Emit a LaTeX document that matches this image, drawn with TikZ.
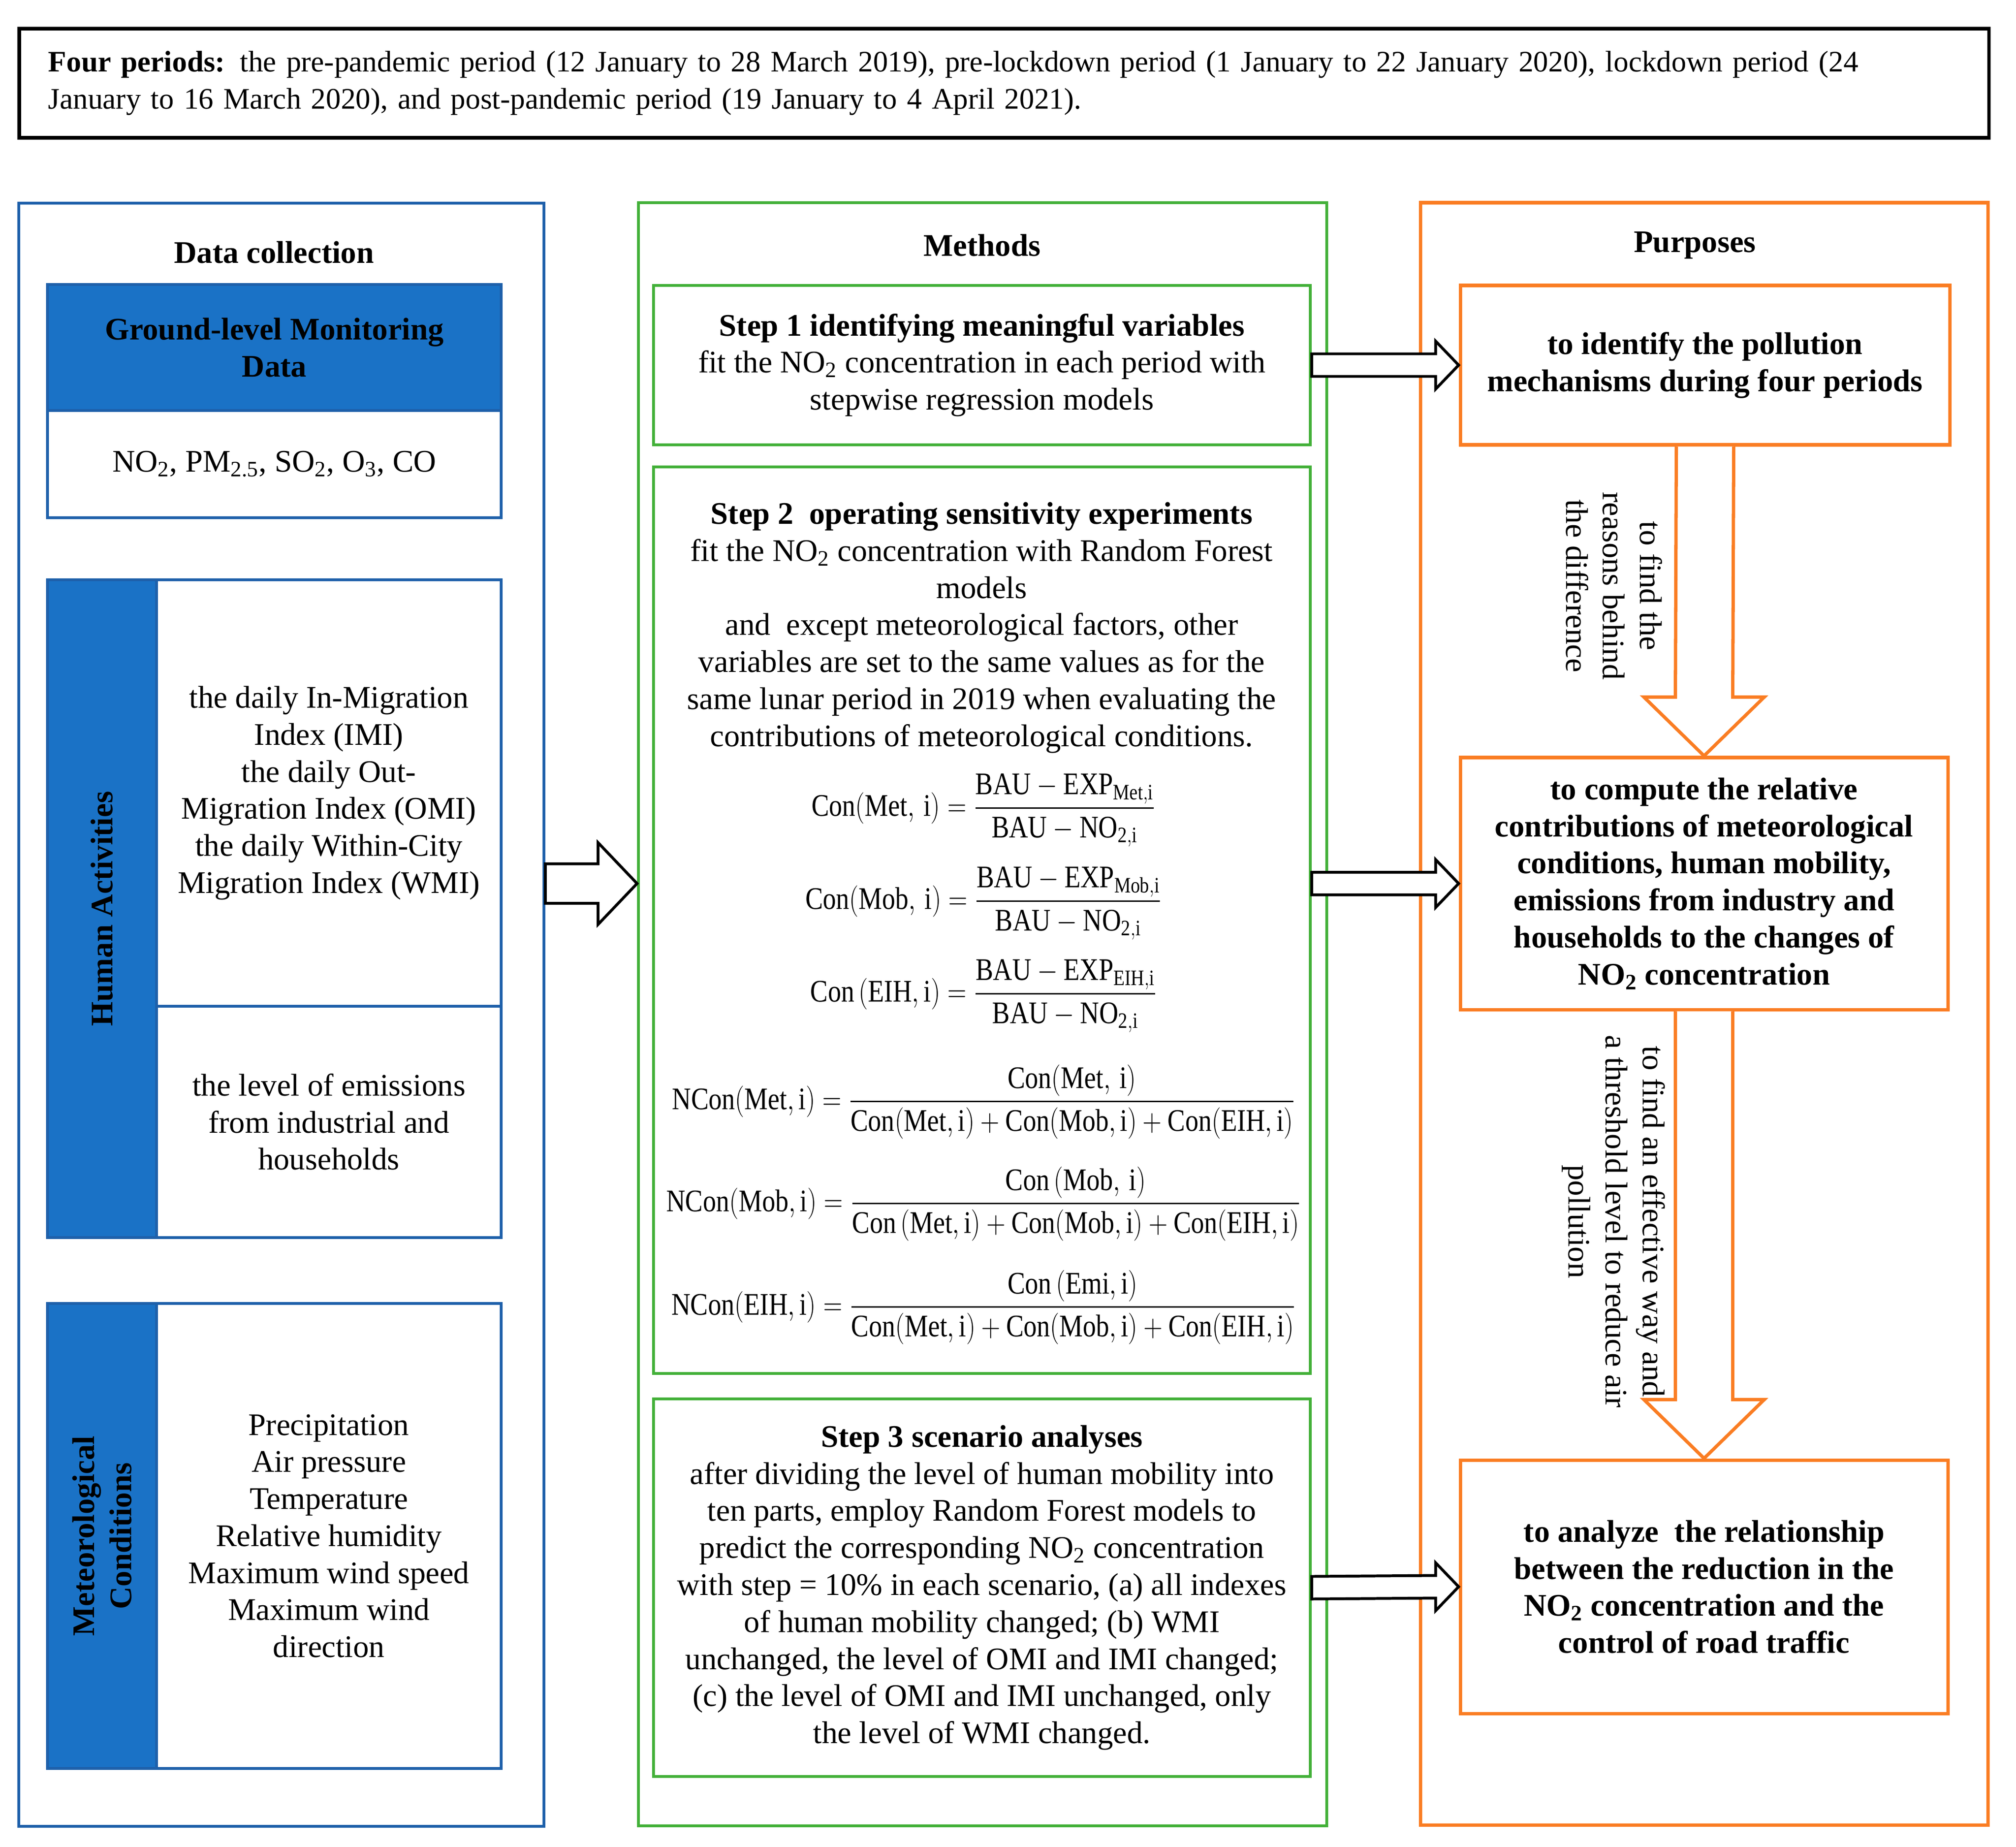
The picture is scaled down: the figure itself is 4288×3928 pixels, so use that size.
\RequirePackage{fix-cm}
\documentclass[tikz,border=0pt]{standalone}
\usepackage{amsmath}
\usepackage{graphicx}
\usepackage{fontspec}
\setmainfont{Liberation Serif}
\usetikzlibrary{calc}
\definecolor{bfill}{RGB}{26,114,198}
\definecolor{bline}{RGB}{30,96,170}
\definecolor{gline}{RGB}{66,176,56}
\definecolor{oline}{RGB}{250,125,35}
\newcommand\rbox[7]{\node[#2, minimum width={(#5-#3)*0.01cm}, minimum height={(#6-#4)*0.01cm}] (#1) at ({(#3+#5)/2},{(#4+#6)/2}) {#7};}
\newcommand\harrow[5]{\draw[blackarrow] ($#1+(0,-#3)$) -- ($#2+(-#5,-#3)$) -- ($#2+(-#5,-#4)$) -- #2 -- ($#2+(-#5,#4)$) -- ($#2+(-#5,#3)$) -- ($#1+(0,#3)$) -- cycle;}
\newcommand\varrow[2]{\draw[orangearrow] ($#1+(-61,0)$) -- ($#2+(-61,-125)$) -- ($#2+(-128,-125)$) -- #2 -- ($#2+(128,-125)$) -- ($#2+(61,-125)$) -- ($#1+(61,0)$);}
\newcommand\sub[1]{\textsubscript{#1}}
\newcommand\fml[1]{\scalebox{0.84}[1]{$\displaystyle #1$}}
\begin{document}
\begin{tikzpicture}[x=0.01cm,y=-0.01cm,
  every node/.style={font=\fontsize{19}{22.4}\selectfont, inner sep=0pt, align=center},
  bold/.style={font=\fontsize{19}{22.4}\selectfont\bfseries},
  topbox/.style={draw=black, line width=2pt},
  bluebox/.style={draw=bline, line width=1.6pt},
  bluebar/.style={draw=bline, fill=bfill, line width=1.6pt},
  greenbox/.style={draw=gline, line width=1.7pt},
  orangebox/.style={draw=oline, line width=2pt},
  blackarrow/.style={draw=black, fill=white, line width=1.7pt, line join=miter},
  orangearrow/.style={draw=oline, fill=white, line width=2pt, line join=miter}]
\useasboundingbox (0,0) rectangle (4288,3928);
% top box
\rbox{top}{topbox, align=left, text width=40.63cm, font=\fontsize{18}{22.4}\selectfont}{41}{61}{4230}{293}{\textbf{Four periods:} the pre-pandemic period (12 January to 28 March 2019), pre-lockdown period (1 January to 22 January 2020), lockdown period (24\\January to 16 March 2020), and post-pandemic period (19 January to 4 April 2021).}
% columns
\rbox{blueout}{bluebox}{40}{432}{1157}{3884}{}
\rbox{greenout}{greenbox}{1358}{431}{2822}{3883}{}
\rbox{orangeout}{orangebox}{3021}{431}{4228}{3881}{}
\node[bold] (tdata) at (583,537) {Data collection};
\node[bold] (tmeth) at (2089,522) {Methods};
\node[bold] (tpurp) at (3605,522) {Purposes};
% left column
\rbox{ghead}{bluebar, bold}{101}{605}{1066}{873}{Ground-level Monitoring\\Data}
\rbox{gbody}{bluebox}{101}{873}{1066}{1101}{NO\sub{2}, PM\sub{2.5}, SO\sub{2}, O\sub{3}, CO}
\rbox{human}{bluebox}{101}{1233}{1066}{2632}{}
\rbox{humbar}{bluebar}{101}{1233}{333}{2632}{}
\node[bold, rotate=90] (humlab) at (humbar.center) {Human Activities};
\rbox{humup}{bluebox}{333}{1233}{1066}{2140}{the daily In-Migration\\Index (IMI)\\the daily Out-\\Migration Index (OMI)\\the daily Within-City\\Migration Index (WMI)}
\rbox{humlow}{bluebox}{333}{2140}{1066}{2632}{the level of emissions\\from industrial and\\households}
\rbox{met}{bluebox}{101}{2772}{1066}{3761}{}
\rbox{metbar}{bluebar}{101}{2772}{333}{3761}{}
\node[bold, rotate=90] (metlab) at (metbar.center) {Meteorological\\Conditions};
\rbox{metcell}{bluebox}{333}{2772}{1066}{3761}{Precipitation\\Air pressure\\Temperature\\Relative humidity\\Maximum wind speed\\Maximum wind\\direction}
% methods
\rbox{s1}{greenbox}{1390}{607}{2787}{946}{\textbf{Step 1 identifying meaningful variables}\\fit the NO\sub{2} concentration in each period with\\stepwise regression models}
\rbox{s2}{greenbox}{1390}{993}{2787}{2921}{}
\node (s2text) at (2088,1335) {\textbf{Step 2\ \ operating sensitivity experiments}\\fit the NO\sub{2} concentration with Random Forest\\models\\and\ \ except meteorological factors, other\\variables are set to the same values as for the\\same lunar period in 2019 when evaluating the\\contributions of meteorological conditions.};
\node (f1) at (2092,1723) {\fml{\mathrm{Con(Met,\,i)} = \frac{\mathrm{BAU}-\mathrm{EXP}_{\mathrm{Met,i}}}{\mathrm{BAU}-\mathrm{NO}_{\mathrm{2,i}}}}};
\node (f2) at (2092,1921) {\fml{\mathrm{Con(Mob,\,i)} = \frac{\mathrm{BAU}-\mathrm{EXP}_{\mathrm{Mob,i}}}{\mathrm{BAU}-\mathrm{NO}_{\mathrm{2,i}}}}};
\node (f3) at (2092,2118) {\fml{\mathrm{Con\,(EIH,i)} = \frac{\mathrm{BAU}-\mathrm{EXP}_{\mathrm{EIH,i}}}{\mathrm{BAU}-\mathrm{NO}_{\mathrm{2,i}}}}};
\node (f4) at (2092,2343) {\fml{\mathrm{NCon(Met,i)} = \frac{\mathrm{Con(Met,\,i)}}{\mathrm{Con(Met,i)}+\mathrm{Con(Mob,i)}+\mathrm{Con(EIH,i)}}}};
\node (f5) at (2092,2560) {\fml{\mathrm{NCon(Mob,i)} = \frac{\mathrm{Con\,(Mob,\,i)}}{\mathrm{Con\,(Met,i)}+\mathrm{Con(Mob,i)}+\mathrm{Con(EIH,i)}}}};
\node (f6) at (2092,2780) {\fml{\mathrm{NCon(EIH,i)} = \frac{\mathrm{Con\,(Emi,i)}}{\mathrm{Con(Met,i)}+\mathrm{Con(Mob,i)}+\mathrm{Con(EIH,i)}}}};
\rbox{s3}{greenbox}{1390}{2975}{2787}{3778}{\textbf{Step 3 scenario analyses}\\after dividing the level of human mobility into\\ten parts, employ Random Forest models to\\predict the corresponding NO\sub{2} concentration\\with step = 10\% in each scenario, (a) all indexes\\of human mobility changed; (b) WMI\\unchanged, the level of OMI and IMI changed;\\(c) the level of OMI and IMI unchanged, only\\the level of WMI changed.}
% purposes
\rbox{p1}{orangebox, bold}{3106}{607}{4147}{946}{to identify the pollution\\mechanisms during four periods}
\rbox{p2}{orangebox, bold}{3106}{1611}{4143}{2147}{to compute the relative\\contributions of meteorological\\conditions, human mobility,\\emissions from industry and\\households to the changes of\\NO\sub{2} concentration}
\rbox{p3}{orangebox, bold}{3106}{3105}{4143}{3644}{to analyze\ \ the relationship\\between the reduction in the\\NO\sub{2} concentration and the\\control of road traffic}
% orange arrows
\varrow{(p1.south)}{(p2.north)}
\varrow{(p2.south)}{(p3.north)}
\node[rotate=-90] (lab1) at (3433,1246) {to find the\\reasons behind\\the difference};
\node[rotate=-90] (lab2) at (3432,2598) {to find an effective way and\\a threshold level to reduce air\\pollution};
% black arrows
\coordinate (la1) at (blueout.east |- p2.west);
\coordinate (la2) at (greenout.west |- p2.west);
\harrow{(la1)}{(la2)}{42}{87}{83}
\harrow{(s1.east)}{(p1.west)}{24}{51}{49}
\coordinate (a2s) at (s2.east |- p2.west);
\harrow{(a2s)}{(p2.west)}{24}{51}{49}
\harrow{(s3.east)}{(p3.west)}{24}{51}{49}
\end{tikzpicture}
\end{document}
